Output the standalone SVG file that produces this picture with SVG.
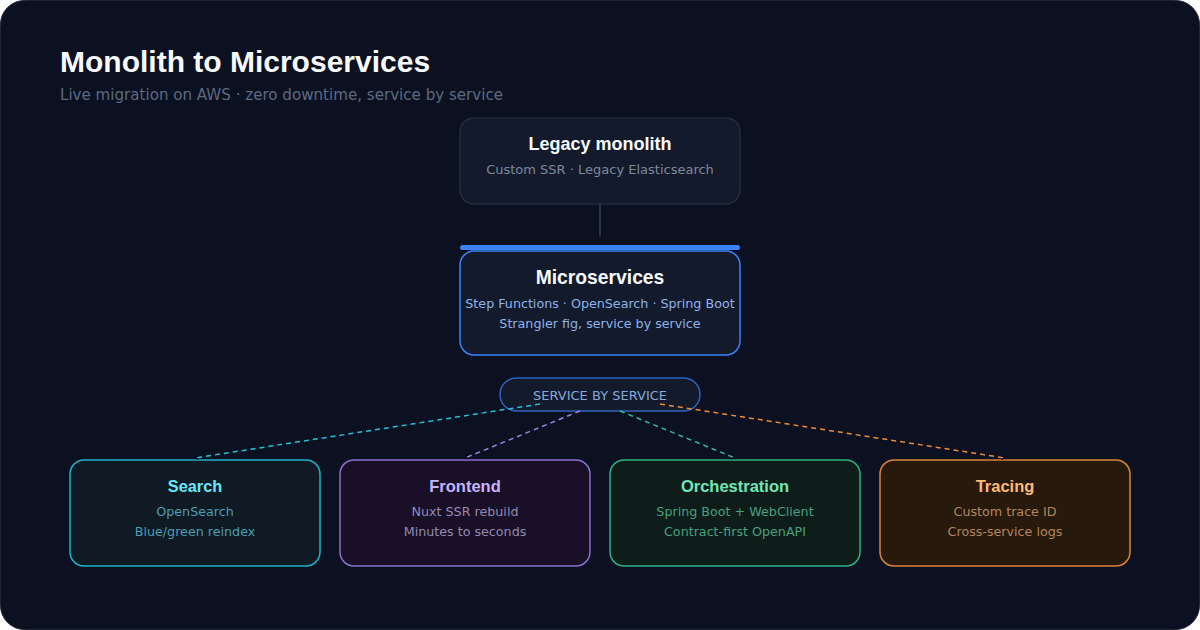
<svg xmlns="http://www.w3.org/2000/svg" width="1200" height="630" viewBox="0 0 1200 630">
<defs>
<style>
.title{font-family:"Liberation Sans",Arial,sans-serif;font-weight:bold;}
.sub{font-family:"DejaVu Sans",sans-serif;font-size:13px;text-anchor:middle;}
.sm{font-size:12.7px;}
.ntitle{font-family:"Liberation Sans",Arial,sans-serif;font-weight:bold;text-anchor:middle;}
.dash{fill:none;stroke-width:1.5;stroke-dasharray:5 4;}
</style>
<marker id="arr2" viewBox="0 0 10 10" refX="9" refY="5" markerWidth="6" markerHeight="6" orient="auto" markerUnits="userSpaceOnUse">
<path d="M3,1 L9,5 L3,9" fill="none" stroke="#020617" stroke-width="1.5"/>
</marker>
</defs>
<rect x="0" y="0" width="1200" height="630" fill="#ffffff"/>
<rect x="0.5" y="0.5" width="1199" height="629" rx="24" fill="#0b1120" stroke="#1e2533"/>
<text x="60" y="72" class="title" font-size="30" fill="#f8fafc">Monolith to Microservices</text>
<text x="60" y="100" font-family="DejaVu Sans, sans-serif" font-size="15.1" fill="#5b6a82">Live migration on AWS · zero downtime, service by service</text>

<g id="legacy">
<rect x="460" y="118" width="280" height="86" rx="14" fill="#131a2b" stroke="#232c3e" stroke-width="1.5"/>
<text x="600" y="150" class="ntitle" font-size="18" fill="#f8fafc">Legacy monolith</text>
<text x="600" y="174" class="sub" fill="#7d889b">Custom SSR · Legacy Elasticsearch</text>
</g>

<g id="microservices">
<rect x="460" y="245" width="280" height="5" rx="2.5" fill="#3b82f6"/>
<rect x="460" y="251" width="280" height="104" rx="14" fill="#131a2b" stroke="#3b82f6" stroke-width="1.5"/>
<text x="600" y="284" class="ntitle" font-size="19.3" fill="#f8fafc">Microservices</text>
<text x="600" y="308" class="sub sm" fill="#8cb4ea">Step Functions · OpenSearch · Spring Boot</text>
<text x="600" y="328" class="sub sm" fill="#8cb4ea">Strangler fig, service by service</text>
</g>

<g id="pill">
<rect x="500" y="378" width="200" height="33" rx="16.5" fill="#131a2b" stroke="#2f62c0" stroke-width="1.5"/>
<text x="600" y="400" class="sub" fill="#86a9dc">SERVICE BY SERVICE</text>
</g>

<g id="search">
<rect x="70" y="460" width="250" height="106" rx="14" fill="#0f1a24" stroke="#1fb2c9" stroke-width="1.5"/>
<text x="195" y="492" class="ntitle" font-size="16.3" fill="#67e8f9">Search</text>
<text x="195" y="516" class="sub sm" fill="#4a9fb3">OpenSearch</text>
<text x="195" y="536" class="sub sm" fill="#4a9fb3">Blue/green reindex</text>
</g>

<g id="frontend">
<rect x="340" y="460" width="250" height="106" rx="14" fill="#190f27" stroke="#8c70cf" stroke-width="1.5"/>
<text x="465" y="492" class="ntitle" font-size="16.5" fill="#c4b5fd">Frontend</text>
<text x="465" y="516" class="sub sm" fill="#948ab2">Nuxt SSR rebuild</text>
<text x="465" y="536" class="sub sm" fill="#948ab2">Minutes to seconds</text>
</g>

<g id="orchestration">
<rect x="610" y="460" width="250" height="106" rx="14" fill="#0e1d19" stroke="#2fae82" stroke-width="1.5"/>
<text x="735" y="492" class="ntitle" font-size="16.5" fill="#6ee7b7">Orchestration</text>
<text x="735" y="516" class="sub sm" fill="#47a07f">Spring Boot + WebClient</text>
<text x="735" y="536" class="sub sm" fill="#47a07f">Contract-first OpenAPI</text>
</g>

<g id="tracing">
<rect x="880" y="460" width="250" height="106" rx="14" fill="#27190c" stroke="#db8438" stroke-width="1.5"/>
<text x="1005" y="492" class="ntitle" font-size="16.5" fill="#fdba74">Tracing</text>
<text x="1005" y="516" class="sub sm" fill="#b3875c">Custom trace ID</text>
<text x="1005" y="536" class="sub sm" fill="#b3875c">Cross-service logs</text>
</g>

<g id="connectors">
<line x1="600" y1="204" x2="600" y2="238" stroke="#334155" stroke-width="1.5" marker-end="url(#arr2)"/>
<line class="dash" x1="540" y1="404" x2="195" y2="458" stroke="#22c3d8" marker-end="url(#arr2)"/>
<line class="dash" x1="580" y1="411" x2="465" y2="458" stroke="#9f7fe6" marker-end="url(#arr2)"/>
<line class="dash" x1="620" y1="411" x2="735" y2="458" stroke="#2fbf8f" marker-end="url(#arr2)"/>
<line class="dash" x1="660" y1="404" x2="1005" y2="458" stroke="#f08a36" marker-end="url(#arr2)"/>
</g>
</svg>
